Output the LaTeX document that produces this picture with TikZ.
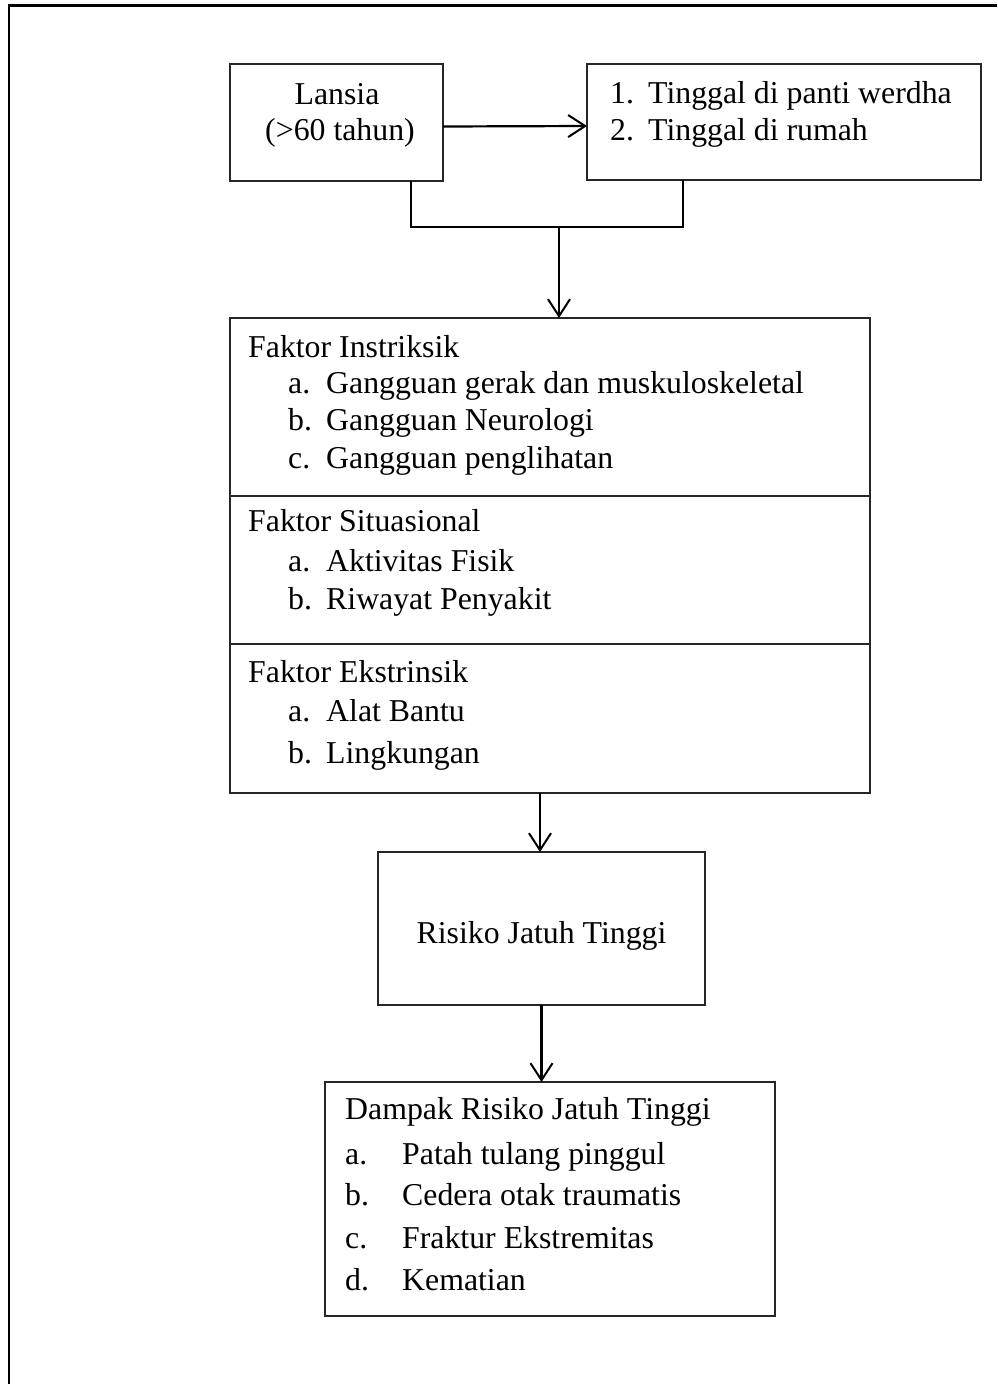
\documentclass[tikz,border=0pt]{standalone}
\usepackage{fontspec}
\setmainfont{Liberation Serif}
\usetikzlibrary{arrows.meta}
\begin{document}
\begin{tikzpicture}[x=1pt,y=-1pt,
  box/.style={draw, line width=1.7pt, draw=black!85, rectangle, inner sep=0pt, outer sep=0pt},
  txt/.style={anchor=base west, inner sep=0pt, font=\fontsize{31.8}{38}\selectfont},
  ctxt/.style={anchor=base, inner sep=0pt, font=\fontsize{31.8}{38}\selectfont},
  arr/.style={line width=2.2pt, -{Straight Barb[length=17pt,width=22pt,line width=2pt]}},
  conn/.style={line width=2.2pt},
  frame/.style={line width=2.6pt}]
\useasboundingbox (0,0) rectangle (997,1384);
% outer frame
\draw[frame] (9,1384) -- (9,5.5) -- (997,5.5);

% boxes
\node[box, minimum width=213pt, minimum height=117pt] (lansia) at (336.5,122.5) {};
\node[box, minimum width=394pt, minimum height=116pt] (tinggal) at (784,122) {};
\node[box, minimum width=640pt, minimum height=178pt] (fi) at (550,407) {};
\node[box, minimum width=640pt, minimum height=148pt] (fs) at (550,570) {};
\node[box, minimum width=640pt, minimum height=149pt] (fe) at (550,718.5) {};
\node[box, minimum width=327pt, minimum height=153pt] (risiko) at (541.5,928.5) {};
\node[box, minimum width=450pt, minimum height=234pt] (dampak) at (550,1199) {};

% connectors
\draw[arr] ([yshift=-4pt]lansia.east) -- ([yshift=-4pt]tinggal.west);
\coordinate (j1) at (411,227);
\coordinate (j2) at (683,227);
\coordinate (jm) at (559,227);
\draw[conn] (j1 |- lansia.south) -- (j1) -- (j2) -- (j2 |- tinggal.south);
\draw[arr] (jm) -- (jm |- fi.north);
\draw[arr] ([xshift=-10pt]fe.south) -- ([xshift=-10pt]fe.south |- risiko.north);
\draw[arr] (risiko.south) -- (risiko.south |- dampak.north);

% texts: Lansia
\node[ctxt] (l1) at (337,104) {Lansia};
\node[ctxt] (l2) at (340,140) {(>60 tahun)};
% Tinggal
\node[txt] (tn1) at (610,103) {1.};
\node[txt] (tt1) at (648,103) {Tinggal di panti werdha};
\node[txt] (tn2) at (610,140) {2.};
\node[txt] (tt2) at (648,140) {Tinggal di rumah};
% Faktor Instriksik
\node[txt] (fih) at (248,357) {Faktor Instriksik};
\node[txt] (fia) at (288,393) {a.};
\node[txt] (fiat) at (326,393) {Gangguan gerak dan muskuloskeletal};
\node[txt] (fib) at (288,430) {b.};
\node[txt] (fibt) at (326,430) {Gangguan Neurologi};
\node[txt] (fic) at (288,468) {c.};
\node[txt] (fict) at (326,468) {Gangguan penglihatan};
% Faktor Situasional
\node[txt] (fsh) at (248,531) {Faktor Situasional};
\node[txt] (fsa) at (288,571) {a.};
\node[txt] (fsat) at (326,571) {Aktivitas Fisik};
\node[txt] (fsb) at (288,609) {b.};
\node[txt] (fsbt) at (326,609) {Riwayat Penyakit};
% Faktor Ekstrinsik
\node[txt] (feh) at (248,682) {Faktor Ekstrinsik};
\node[txt] (fea) at (288,721) {a.};
\node[txt] (feat) at (326,721) {Alat Bantu};
\node[txt] (feb) at (288,763) {b.};
\node[txt] (febt) at (326,763) {Lingkungan};
% Risiko
\node[ctxt] (rt) at (541.5,943) {Risiko Jatuh Tinggi};
% Dampak
\node[txt] (dh) at (345,1119) {Dampak Risiko Jatuh Tinggi};
\node[txt] (da) at (345,1164) {a.};
\node[txt] (dat) at (402,1164) {Patah tulang pinggul};
\node[txt] (db) at (345,1205) {b.};
\node[txt] (dbt) at (402,1205) {Cedera otak traumatis};
\node[txt] (dc) at (345,1248) {c.};
\node[txt] (dct) at (402,1248) {Fraktur Ekstremitas};
\node[txt] (dd) at (345,1290) {d.};
\node[txt] (ddt) at (402,1290) {Kematian};
\end{tikzpicture}
\end{document}
